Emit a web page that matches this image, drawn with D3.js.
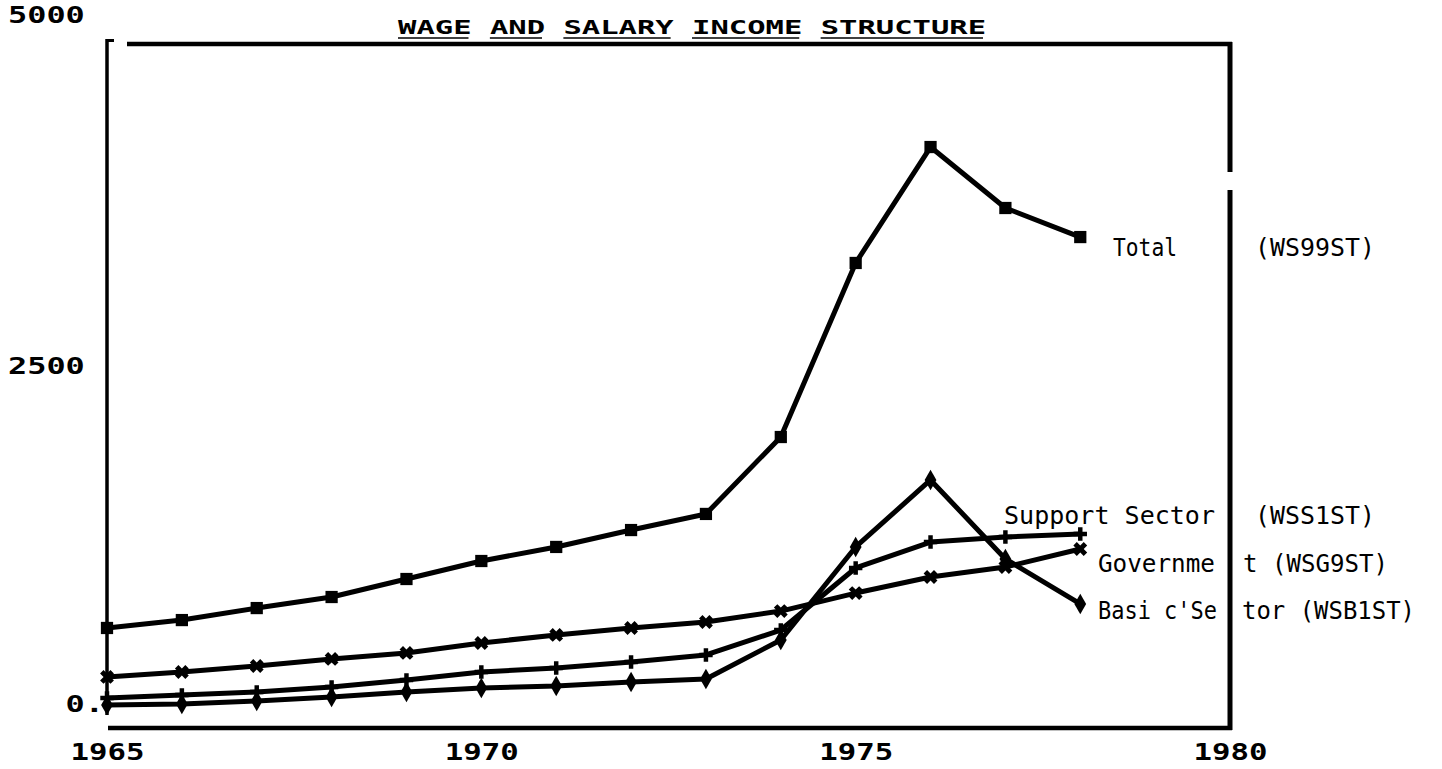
<!DOCTYPE html>
<html>
<head>
<meta charset="utf-8">
<script src="https://cdn.jsdelivr.net/npm/d3@7"></script>
<style>
  body { margin: 0; background: #fff; }
  svg { display: block; }
</style>
</head>
<body>
<div id="chart"></div>
<script>
'use strict';

  const years = [1965, 1966, 1967, 1968, 1969, 1970, 1971, 1972, 1973, 1974, 1975, 1976, 1977, 1978];
  const total      = [572, 630, 718, 799, 931, 1063, 1166, 1290, 1408, 1972, 3248, 4098, 3651, 3438];
  const government = [213, 249, 293, 345, 389, 462, 521, 572, 616, 696, 828, 946, 1019, 1151];
  const support    = [59, 81, 103, 139, 191, 249, 279, 323, 374, 557, 1012, 1202, 1239, 1261];
  const basic      = [7, 15, 37, 66, 103, 132, 147, 176, 198, 484, 1166, 1657, 1078, 748];
  const yTicks = [0, 2500, 5000];
  const yTickLabels = ["\u00a0\u00a0\u00a00.", "2500", "5000"];
  const xTicks = [1965, 1970, 1975, 1980];
  const title = "WAGE AND SALARY INCOME STRUCTURE";

  const msm = {
    width: 1442,
    height: 769,
    left: 107,
    right: 1230,
    top: 44,
    bottom: 728,
    zeroY: 706,
    maxY: 24
  }

  const series = [
    { name: "Total", values: total, symbol: d3.symbolSquare, size: 150, rotate: 0 },
    { name: "Government", values: government, symbol: d3.symbolCross, size: 120, rotate: 45 },
    { name: "Support", values: support, symbol: d3.symbolCross, size: 100, rotate: 0 },
    { name: "Basic", values: basic, symbol: d3.symbolDiamond, size: 120, rotate: 0 }
  ];

  // label pieces on the right, split by the frame line
  const labels = [
    { text: "Total", x: 1113, y: 256, len: 64 },
    { text: "(WS99ST)", x: 1255, y: 256, len: 120 },
    { text: "Support Sector", x: 1004, y: 524, len: 211 },
    { text: "(WSS1ST)", x: 1255, y: 524, len: 120 },
    { text: "Governme", x: 1098, y: 572, len: 117 },
    { text: "t (WSG9ST)", x: 1243, y: 572, len: 145 },
    { text: "Basi c'Se", x: 1098, y: 619, len: 119 },
    { text: "tor (WSB1ST)", x: 1242, y: 619, len: 173 }
  ];

  const svg = d3.select('#chart')
    .append('svg')
    .attr('width', msm.width)
    .attr('height', msm.height);

  let xScale = d3.scaleLinear()
    .domain([1965, 1980])
    .range([msm.left, msm.right]);

  let yScale = d3.scaleLinear()
    .domain([0, 5000])
    .range([msm.zeroY, msm.maxY]);

  // frame
  const frame = svg.append('g').attr('stroke', '#000').attr('fill', 'none');
  frame.append('line').attr('x1', msm.left).attr('x2', msm.left).attr('y1', 39).attr('y2', 715).attr('stroke-width', 3.5);
  frame.append('line').attr('x1', msm.left).attr('x2', 114).attr('y1', 40.5).attr('y2', 40.5).attr('stroke-width', 3);
  frame.append('line').attr('x1', 127).attr('x2', msm.right + 2).attr('y1', msm.top).attr('y2', msm.top).attr('stroke-width', 4.5);
  frame.append('line').attr('x1', msm.right).attr('x2', msm.right).attr('y1', msm.top - 2).attr('y2', 172).attr('stroke-width', 5);
  frame.append('line').attr('x1', msm.right).attr('x2', msm.right).attr('y1', 190).attr('y2', msm.bottom + 2).attr('stroke-width', 5);
  frame.append('line').attr('x1', msm.left + 1).attr('x2', msm.right + 2).attr('y1', msm.bottom).attr('y2', msm.bottom).attr('stroke-width', 4.5);

  // title with per-word underline
  const titleX = 398, titleLen = 588, charW = titleLen / title.length;
  svg.append('text')
    .attr('x', titleX)
    .attr('y', 34)
    .attr('textLength', titleLen)
    .attr('lengthAdjust', 'spacingAndGlyphs')
    .style('font-family', 'DejaVu Sans Mono')
    .style('font-weight', 'bold')
    .style('font-size', '19px')
    .text(title);
  let pos = 0;
  title.split(' ').forEach((w) => {
    svg.append('line')
      .attr('x1', titleX + pos * charW)
      .attr('x2', titleX + (pos + w.length) * charW - 3)
      .attr('y1', 38).attr('y2', 38)
      .attr('stroke', '#000').attr('stroke-width', 1.5);
    pos += w.length + 1;
  });

  // axes
  let xAxis = d3.axisBottom(xScale).tickValues(xTicks).tickSize(0).tickFormat(d3.format('d'));
  let gx = svg.append('g')
    .attr('transform', 'translate(0,' + msm.bottom + ')')
    .call(xAxis);
  gx.select('.domain').remove();
  gx.selectAll('text')
    .attr('y', 32)
    .attr('dy', 0)
    .attr('textLength', 74)
    .attr('lengthAdjust', 'spacingAndGlyphs')
    .style('font-family', 'DejaVu Sans Mono')
    .style('font-weight', 'bold')
    .style('font-size', '23px')
    .attr('fill', '#000');

  // label nudges as plotted on the original
  const yNudge = [-3, 0, -10];
  let yAxis = d3.axisLeft(yScale).tickValues(yTicks).tickSize(0)
    .tickFormat((d, i) => yTickLabels[i]);
  let gy = svg.append('g')
    .attr('transform', 'translate(' + msm.left + ',0)')
    .call(yAxis);
  gy.select('.domain').remove();
  gy.selectAll('text')
    .attr('x', 8 - msm.left)
    .attr('y', (d, i) => yNudge[i])
    .attr('dy', '0.35em')
    .attr('text-anchor', 'start')
    .attr('textLength', (d, i) => yTickLabels[i].length * 19.2)
    .attr('lengthAdjust', 'spacingAndGlyphs')
    .style('font-family', 'DejaVu Sans Mono')
    .style('font-weight', 'bold')
    .style('font-size', '23px')
    .attr('fill', '#000');

  // lines and markers
  let line = d3.line()
    .x((d, i) => xScale(years[i]))
    .y((d) => yScale(d));

  series.forEach((s) => {
    svg.append('path')
      .datum(s.values)
      .attr('fill', 'none')
      .attr('stroke', '#000')
      .attr('stroke-width', 5)
      .attr('stroke-linejoin', 'round')
      .attr('d', line);

    svg.selectAll('.m-' + s.name)
      .data(s.values)
      .enter()
      .append('path')
        .attr('class', 'm-' + s.name)
        .attr('transform', (d, i) => 'translate(' + xScale(years[i]) + ',' + yScale(d) + ') rotate(' + s.rotate + ')')
        .attr('d', d3.symbol().type(s.symbol).size(s.size))
        .attr('fill', '#000');
  });

  // end labels
  svg.selectAll('.lbl')
    .data(labels)
    .enter()
    .append('text')
      .attr('class', 'lbl')
      .attr('x', (d) => d.x)
      .attr('y', (d) => d.y)
      .attr('textLength', (d) => d.len)
      .attr('lengthAdjust', 'spacingAndGlyphs')
      .style('font-family', 'DejaVu Sans Mono')
      .style('font-size', '25px')
      .attr('fill', '#000')
      .text((d) => d.text);
</script>
</body>
</html>
